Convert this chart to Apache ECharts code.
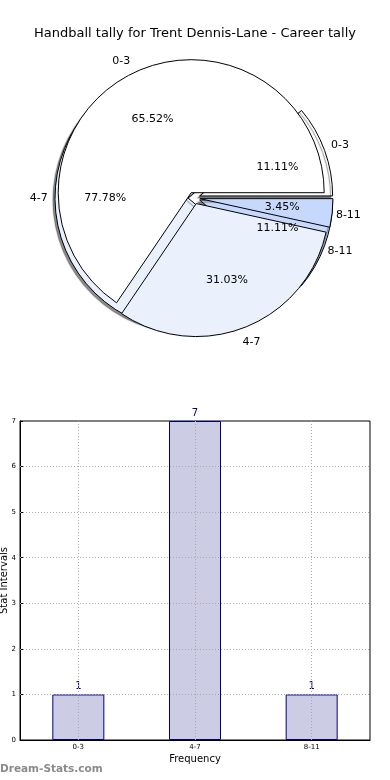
<!DOCTYPE html>
<html>
<head>
<meta charset="utf-8">
<script src="https://cdn.jsdelivr.net/npm/echarts@6/dist/echarts.min.js"></script>
<style>
html,body{margin:0;padding:0;background:#fff;}
#c{width:390px;height:780px;}
</style>
</head>
<body>
<div id="c"></div>
<script>
const titleText = 'Handball tally for Trent Dennis-Lane - Career tally';
const categories = ['0-3', '4-7', '8-11'];
const frequency = [1, 7, 1];
const innerShares = [19, 9, 1];
const sliceColors = ['#ffffff', '#eaf0fc', '#c6d9fd'];
const yTicks = [0, 1, 2, 3, 4, 5, 6, 7];

const FONT = 'DejaVu Sans';
const C = [194, 198];
const R = 133;

function alignFor(values) {
  const total = values.reduce((a, b) => a + b, 0);
  let acc = 0;
  return values.map(v => {
    const mid = (acc + v / 2) / total * 2 * Math.PI;
    acc += v;
    return Math.cos(mid) >= 0 ? 'left' : 'right';
  });
}

function pieData(values, explode) {
  return values.map((v, i) => ({
    name: categories[i], value: v, selected: explode,
    itemStyle: { color: sliceColors[i] }
  }));
}

function mainPie(values, shadow) {
  return {
    type: 'pie', center: C, radius: [0, R], startAngle: 0, clockwise: false,
    selectedMode: 'multiple', selectedOffset: 6, silent: true, animation: false,
    avoidLabelOverlap: false,
    label: { show: false }, labelLine: { show: false },
    itemStyle: shadow
      ? { borderColor: '#000', borderWidth: 1, shadowColor: 'rgba(0,0,0,0.45)', shadowBlur: 1, shadowOffsetX: -2, shadowOffsetY: 2 }
      : { borderColor: '#000', borderWidth: 1 },
    emphasis: { disabled: true },
    data: pieData(values, true)
  };
}

function labelPie(values, inner, outer, kind) {
  const aligns = alignFor(values);
  return {
    type: 'pie', center: C, radius: [inner, outer], startAngle: 0, clockwise: false,
    selectedMode: 'multiple', selectedOffset: 6, silent: true, animation: false,
    avoidLabelOverlap: false,
    itemStyle: { color: 'rgba(0,0,0,0)', borderWidth: 0 },
    labelLine: { show: false },
    emphasis: { disabled: true },
    label: {
      show: true, position: 'inside', color: '#000', fontFamily: FONT, fontSize: 11,
      formatter: kind === 'pct' ? (p => p.percent.toFixed(2) + '%') : (p => p.name)
    },
    data: values.map((v, i) => ({
      name: categories[i], value: v, selected: true,
      label: kind === 'name' ? { align: aligns[i] } : {}
    }))
  };
}

const chart = echarts.init(document.getElementById('c'), null, { renderer: 'canvas' });

const gridLinesX = categories.map(c => ({ xAxis: c }));
const gridLinesY = yTicks.slice(1, -1).map(t => ({ yAxis: t }));

chart.setOption({
  animation: false,
  backgroundColor: '#fff',
  title: {
    text: titleText, left: 'center', top: 22,
    textStyle: { fontFamily: FONT, fontSize: 13, fontWeight: 'normal', color: '#000' }
  },
  graphic: [{
    type: 'text', left: 0, top: 764,
    style: { text: 'Dream-Stats.com', fill: '#8a8a8a', font: 'bold 10.5px "DejaVu Sans"' }
  }],
  grid: {
    left: 20, right: 20, top: 421, bottom: 40, show: true,
    outerBoundsMode: 'none', containLabel: false,
    borderColor: '#000', borderWidth: 1, backgroundColor: 'transparent'
  },
  xAxis: {
    type: 'category', data: categories, boundaryGap: true,
    name: 'Frequency', nameLocation: 'middle', nameGap: 14,
    nameMoveOverlap: false,
    nameTextStyle: { fontFamily: FONT, fontSize: 10, color: '#000' },
    axisLine: { show: true, lineStyle: { color: '#000' } },
    axisTick: { show: true, inside: true, alignWithLabel: true, length: 3, lineStyle: { color: '#000' } },
    axisLabel: { fontFamily: FONT, fontSize: 7, color: '#000', margin: 4 },
    splitLine: { show: false }
  },
  yAxis: {
    type: 'value', min: 0, max: 7, interval: 1,
    name: 'Stat Intervals', nameLocation: 'middle', nameGap: 11,
    nameMoveOverlap: false,
    nameTextStyle: { fontFamily: FONT, fontSize: 10, color: '#000' },
    axisLine: { show: true, lineStyle: { color: '#000' } },
    axisTick: { show: true, inside: true, length: 3, lineStyle: { color: '#000' } },
    axisLabel: { fontFamily: FONT, fontSize: 7, color: '#000', margin: 4 },
    splitLine: { show: false }
  },
  series: [
    mainPie(frequency, true),
    mainPie(innerShares, false),
    labelPie(frequency, R * 0.4, R * 0.8, 'pct'),
    labelPie(innerShares, R * 0.4, R * 0.8, 'pct'),
    labelPie(frequency, R, R * 1.2, 'name'),
    labelPie(innerShares, R, R * 1.2, 'name'),
    {
      type: 'bar', data: frequency, barWidth: 52, silent: true,
      itemStyle: { color: '#ccccE4', borderColor: '#00007f', borderWidth: 1 },
      label: { show: true, position: 'top', distance: 3, color: '#00007f', fontFamily: FONT, fontSize: 10 },
      emphasis: { disabled: true },
      markLine: {
        silent: true, symbol: 'none', label: { show: false },
        lineStyle: { color: '#aaaaaa', type: [1, 2], width: 1 },
        emphasis: { disabled: true },
        data: gridLinesX.concat(gridLinesY)
      }
    }
  ]
});
</script>
</body>
</html>
